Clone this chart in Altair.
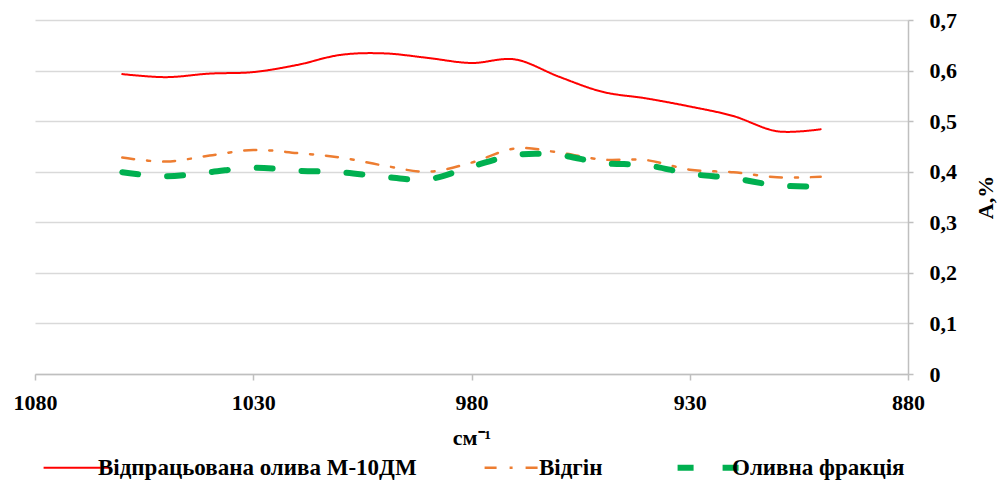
import altair as alt
import pandas as pd

# Wavenumbers, cm^-1
wavenumber = [1060, 1050, 1040, 1030, 1020, 1010, 1000, 990, 980, 970, 960, 950, 940, 930, 920, 910, 900]
series_names = ["Відпрацьована олива М-10ДМ", "Відгін", "Оливна фракція"]
used_oil = [0.593, 0.587, 0.594, 0.597, 0.611, 0.631, 0.634, 0.625, 0.615, 0.622, 0.588, 0.558, 0.545, 0.529, 0.510, 0.480, 0.484]
distillate = [0.428, 0.420, 0.432, 0.443, 0.437, 0.428, 0.412, 0.400, 0.418, 0.446, 0.438, 0.424, 0.423, 0.404, 0.399, 0.389, 0.390]
oil_fraction = [0.399, 0.391, 0.399, 0.408, 0.402, 0.399, 0.390, 0.385, 0.410, 0.433, 0.433, 0.417, 0.413, 0.396, 0.387, 0.373, 0.371]
x_ticks = [1080, 1030, 980, 930, 880]
y_ticks = [0, 0.1, 0.2, 0.3, 0.4, 0.5, 0.6, 0.7]
line_widths = [2, 2.5, 6]
line_colors = ["#FF0000", "#ED7D31", "#00B050"]
line_dashes = [[1, 0], [12, 13, 3, 13], [16, 29]]

rows = []
for name, vals, lw in zip(series_names, [used_oil, distillate, oil_fraction], line_widths):
    for w, v in zip(wavenumber, vals):
        rows.append({"x": w, "y": v, "series": name, "w": lw})
df = pd.DataFrame(rows)

FONT = "Liberation Serif"

color_scale = alt.Scale(domain=series_names, range=line_colors)
dash_scale = alt.Scale(domain=series_names, range=line_dashes)


def pick(values):
    return (f"datum.value === '{series_names[2]}' ? {values[2]} : "
            f"(datum.value === '{series_names[1]}' ? {values[1]} : {values[0]})")


legend = alt.Legend(
    title=None, orient="none", direction="horizontal",
    legendX=31, legendY=436,
    symbolType="stroke", symbolSize=4600,
    symbolStrokeWidth=alt.ExprRef(expr=pick(line_widths)),
    symbolDash=alt.ExprRef(expr=pick(line_dashes)),
    labelFont=FONT, labelFontSize=23, labelFontWeight="bold", labelColor="black",
    labelLimit=600, columnPadding=62, labelOffset=9,
)

chart = alt.Chart(df).mark_line(interpolate="cardinal", strokeCap="round").encode(
    x=alt.X("x:Q",
            scale=alt.Scale(domain=[880, 1080], reverse=True, nice=False, zero=False),
            axis=alt.Axis(values=x_ticks, title="см⁻¹", grid=False, tickSize=6, format="d",
                          labelPadding=12, titlePadding=14, labelFlush=False)),
    y=alt.Y("y:Q",
            scale=alt.Scale(domain=[0, 0.7], nice=False),
            axis=alt.Axis(orient="right", values=y_ticks, title="А,%", grid=True, tickSize=5,
                          labelPadding=16, labelAlign="left",
                          labelExpr="datum.value == 0 ? '0' : replace(format(datum.value, '.1f'), '.', ',')",
                          titleAngle=270, titleX=77, titleY=177, titleAlign="center",
                          titleBaseline="middle")),
    color=alt.Color("series:N", scale=color_scale, legend=legend, sort=series_names),
    strokeDash=alt.StrokeDash("series:N", scale=dash_scale, legend=None, sort=series_names),
    strokeWidth=alt.StrokeWidth("w:Q", scale=None, legend=None),
).properties(
    width=873, height=354,
    padding={"left": 35, "top": 20, "right": 90, "bottom": 108},
    autosize=alt.AutoSizeParams(type="none"),
).configure_view(
    stroke=None
).configure_axis(
    labelFont=FONT, labelFontSize=22, labelFontWeight="bold", labelColor="black",
    titleFont=FONT, titleFontSize=22, titleFontWeight="bold", titleColor="black",
    domainColor="#BFBFBF", domainWidth=1.5, tickColor="#BFBFBF", tickWidth=1.5,
    gridColor="#D9D9D9", gridWidth=1.5,
).configure_legend(
    labelFont=FONT, labelFontSize=23, labelFontWeight="bold", labelColor="black",
)

chart.save("out.html", embed_options={"renderer": "svg", "actions": False})
